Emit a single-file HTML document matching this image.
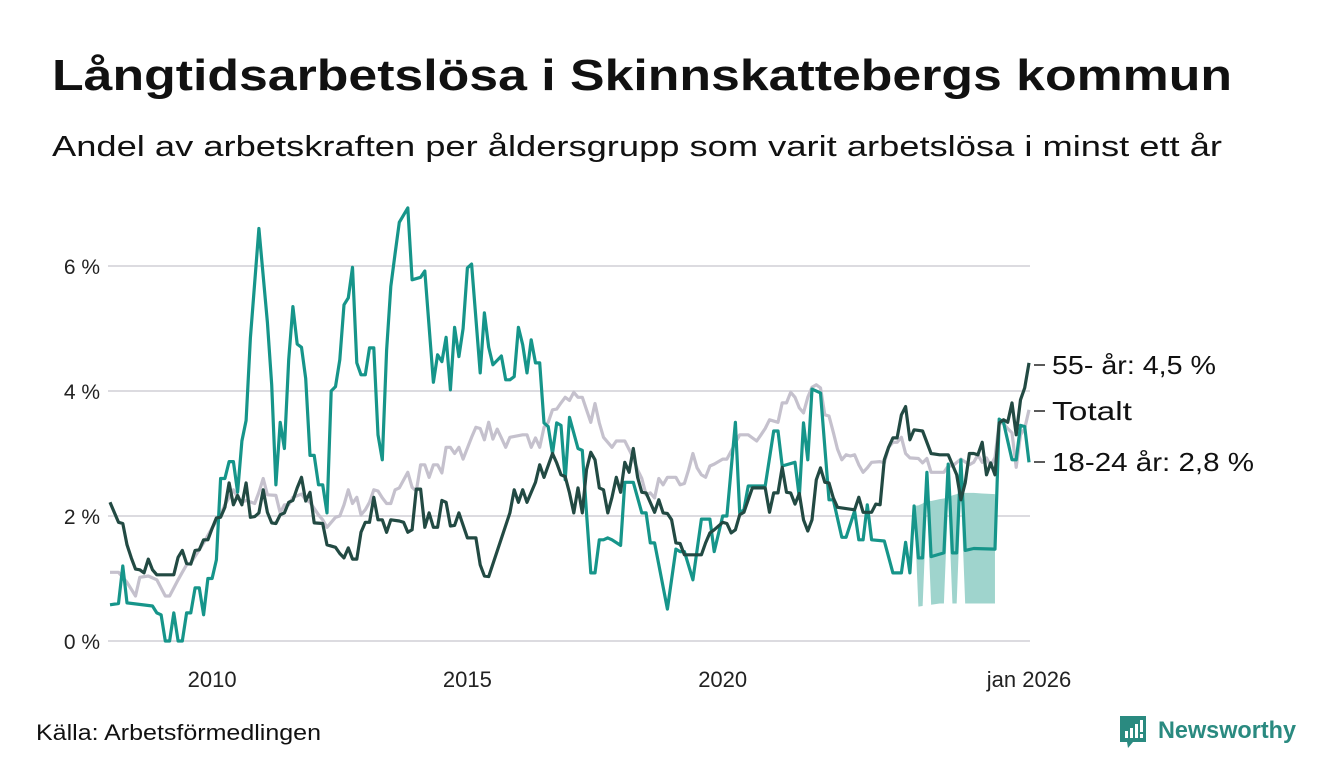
<!DOCTYPE html>
<html><head><meta charset="utf-8">
<style>
body{margin:0;background:#fff;}
svg{display:block;font-family:"Liberation Sans",sans-serif;}
</style></head>
<body>
<svg id="chart" width="1340" height="780" viewBox="0 0 1340 780">
<text x="52" y="90" font-size="44" font-weight="bold" fill="#111" textLength="1180" lengthAdjust="spacingAndGlyphs">Långtidsarbetslösa i Skinnskattebergs kommun</text>
<text x="52" y="156" font-size="29" fill="#111" textLength="1170" lengthAdjust="spacingAndGlyphs">Andel av arbetskraften per åldersgrupp som varit arbetslösa i minst ett år</text>
<g id="grid"></g>
<g id="band"></g>
<g id="lines"></g>
<g id="labels"></g>
<text x="36" y="740" font-size="22" fill="#111" textLength="285" lengthAdjust="spacingAndGlyphs">Källa: Arbetsförmedlingen</text>
<g>
<path d="M1120 716 h26 v26 h-13 l-5 6 l-1-6 h-7 z" fill="#2a8a80"/>
<rect x="1125" y="731" width="3" height="7" fill="#fff"/><rect x="1130" y="728" width="3" height="10" fill="#fff"/><rect x="1135" y="724" width="3" height="14" fill="#fff"/><rect x="1140" y="720" width="3" height="12" fill="#fff"/><rect x="1140" y="734" width="3" height="4" fill="#fff"/>
<text x="1158" y="738" font-size="24" font-weight="bold" fill="#2a8a80" textLength="138" lengthAdjust="spacingAndGlyphs">Newsworthy</text>
</g>
</svg>
<script>
// months since Jan 2008
const youthMonths=[0,2,3,4,10,11,12,13,14,15,16,17,18,19,20,21,22,23,24,25,26,27,28,29,30,31,32,33,35,37,38,39,40,41,42,43,44,45,46,47,48,49,50,51,52,53,54,55,56,57,58,59,60,61,62,63,64,65,66,67,68,70,71,73,74,76,77,78,79,80,81,82,83,84,85,87,88,89,90,92,93,94,95,96,97,98,99,100,101,102,103,104,105,106,107,108,110,111,112,113,114,115,116,117,118,120,121,122,123,125,126,127,128,131,133,134,135,137,138,139,141,142,144,145,147,148,149,150,152,154,156,157,158,161,162,163,164,165,167,169,170,172,173,175,176,177,178,179,182,184,186,187,188,189,190,191,192,193,196,197,198,199,200,201,203,208,209,210,212,213,214,215,216];
const youthValues=[0.58,0.6,1.2,0.61,0.56,0.45,0.42,0,0,0.45,0,0,0.45,0.45,0.85,0.85,0.42,1.0,1.0,1.3,2.6,2.6,2.87,2.87,2.38,3.2,3.53,4.85,6.6,5.1,4.1,2.5,3.5,3.08,4.5,5.35,4.75,4.7,4.2,2.97,2.97,2.5,2.5,2.05,4.0,4.07,4.5,5.38,5.49,5.98,4.45,4.26,4.26,4.69,4.69,3.3,2.9,4.65,5.67,6.2,6.7,6.93,5.78,5.82,5.92,4.14,4.58,4.47,4.86,4.02,5.02,4.55,5.0,5.97,6.03,4.29,5.25,4.7,4.42,4.56,4.18,4.18,4.23,5.02,4.74,4.29,4.82,4.45,4.45,3.49,3.43,3.0,3.49,3.45,2.58,3.58,3.08,3.05,2.05,1.09,1.09,1.62,1.62,1.65,1.62,1.53,2.54,2.54,2.54,2.05,2.05,1.57,1.57,0.51,1.47,1.43,1.43,0.98,1.46,1.95,1.95,1.43,2.0,2.0,3.5,2.05,2.1,2.48,2.48,2.48,3.36,3.36,2.8,2.86,2.3,3.49,2.9,4.03,3.97,2.26,2.26,1.66,1.66,2.08,1.62,1.62,2.18,1.62,1.6,1.09,1.09,1.58,1.09,2.16,1.33,1.33,2.7,1.35,1.41,2.83,1.41,1.41,2.9,1.45,1.48,1.47,3.55,3.5,2.9,2.9,3.45,3.43,2.86];
const oldMonths=[0,2,3,4,5,6,7,8,9,10,11,15,16,17,18,19,20,21,22,23,24,25,26,27,28,29,30,31,32,33,34,35,36,37,38,39,40,41,42,43,44,45,46,47,48,50,51,53,54,55,56,57,58,59,60,61,62,63,64,65,66,68,69,70,71,72,73,74,75,76,77,78,79,80,81,82,84,86,87,88,89,94,95,96,97,98,100,101,102,104,105,106,107,108,109,110,111,112,113,114,115,116,117,118,119,120,121,122,123,124,125,126,128,129,130,131,132,133,134,135,139,140,141,142,144,145,146,147,148,149,150,151,154,155,156,157,158,159,160,161,162,163,164,165,166,167,168,169,170,171,175,176,177,179,180,181,182,183,184,185,186,187,188,189,191,193,195,197,199,200,201,202,203,204,205,206,207,208,209,210,211,212,213,214,215,216];
const oldValues=[2.22,1.9,1.88,1.54,1.33,1.15,1.14,1.09,1.31,1.14,1.06,1.06,1.34,1.45,1.24,1.23,1.45,1.46,1.62,1.62,1.8,1.97,1.98,2.14,2.53,2.18,2.33,2.18,2.53,1.98,1.99,2.05,2.42,2.06,1.89,1.88,2.02,2.05,2.22,2.25,2.45,2.62,2.24,2.38,1.89,1.88,1.54,1.5,1.4,1.33,1.49,1.31,1.31,1.74,1.9,1.9,2.3,1.94,1.94,1.74,1.94,1.92,1.9,1.74,1.78,2.43,2.43,1.82,2.05,1.82,1.82,2.25,2.22,1.84,1.85,2.05,1.65,1.65,1.22,1.04,1.03,2.05,2.42,2.22,2.42,2.22,2.54,2.82,2.62,3.0,2.85,2.66,2.63,2.37,2.05,2.45,2.05,2.74,3.02,2.9,2.45,2.42,2.05,2.3,2.62,2.38,2.86,2.7,3.08,2.62,2.38,2.37,2.06,2.26,2.05,2.04,1.94,1.57,1.56,1.38,1.38,1.57,1.73,1.78,1.9,1.88,1.73,1.78,2.02,2.06,2.26,2.45,2.45,2.06,2.37,2.37,2.78,2.38,2.37,2.19,2.36,1.94,1.76,1.94,2.58,2.77,2.54,2.53,2.29,2.14,2.1,2.3,2.06,2.06,2.19,2.18,2.9,3.1,3.25,3.25,3.62,3.75,3.22,3.38,3.36,3.0,2.98,2.98,2.66,2.26,2.53,3.0,3.0,2.98,3.18,2.66,2.85,2.66,3.49,3.54,3.5,3.81,3.3,3.86,4.05,4.45];
const totalMonths=[0,2,4,6,7,9,11,13,14,16,17,18,19,21,22,24,26,27,29,30,31,32,34,35,36,37,39,40,41,42,43,45,46,47,49,50,51,53,54,55,56,57,58,59,60,61,62,63,64,65,66,67,68,70,71,72,73,74,75,76,77,78,79,80,81,82,83,85,86,87,88,89,90,91,92,93,94,97,98,99,100,101,102,103,104,105,106,107,108,109,110,111,112,113,114,115,116,118,119,121,123,124,125,126,127,128,129,130,131,133,134,135,136,137,138,139,140,141,142,144,145,146,147,148,150,151,152,153,154,155,157,158,159,160,161,162,163,164,165,166,167,168,169,170,171,172,173,174,175,176,177,178,179,181,182,183,184,185,186,187,188,190,191,192,193,195,196,197,198,200,202,203,204,205,206,207,208,209,210,211,212,213,214,215,216];
const totalValues=[1.1,1.1,0.94,0.72,1.02,1.04,0.98,0.72,0.72,0.98,1.1,1.22,1.25,1.46,1.57,1.81,2.02,2.18,2.42,2.3,2.22,2.25,2.2,2.38,2.6,2.34,2.33,2.05,2.18,2.18,2.3,2.35,2.26,2.22,2.02,1.94,1.82,1.98,2.0,2.18,2.42,2.2,2.3,2.02,2.1,2.22,2.42,2.4,2.29,2.2,2.2,2.42,2.45,2.7,2.46,2.4,2.82,2.82,2.62,2.82,2.82,2.69,3.1,3.1,3.0,3.1,2.91,3.26,3.42,3.4,3.22,3.5,3.23,3.39,3.25,3.1,3.26,3.3,3.3,3.1,3.25,3.1,3.42,3.5,3.7,3.71,3.81,3.9,3.85,3.98,3.9,3.9,3.7,3.5,3.8,3.49,3.26,3.1,3.2,3.2,2.93,2.74,2.6,2.34,2.37,2.29,2.6,2.5,2.62,2.62,2.5,2.52,2.74,3.0,2.77,2.66,2.62,2.8,2.83,2.91,2.91,3.04,3.17,3.3,3.3,3.25,3.2,3.3,3.4,3.54,3.5,3.81,3.81,3.98,3.9,3.73,3.65,3.9,4.06,4.1,4.05,3.62,3.6,3.34,3.07,2.9,2.98,2.96,2.98,2.82,2.7,2.77,2.86,2.87,2.85,3.1,3.18,3.18,3.26,3.0,2.93,2.92,2.85,2.92,2.7,2.7,2.7,2.8,2.8,2.91,2.82,2.86,2.98,2.86,2.93,2.8,2.94,3.5,3.48,3.4,3.33,2.78,3.3,3.4,3.7];
const bandMonths=[189,190,191,192,193,195,196,197,198,199,200,201,203,205,208];
const bandLow=[2.16,0.55,0.56,2.25,0.58,0.6,0.6,2.3,0.6,0.6,2.37,0.6,0.6,0.6,0.6];
const bandHigh=[2.16,2.17,2.2,2.25,2.24,2.27,2.28,2.3,2.33,2.35,2.37,2.37,2.37,2.36,2.35];
const yTicks=[0,2,4,6];
const yTickLabels=["0 %","2 %","4 %","6 %"];
const xTickMonths=[24,84,144,216];
const xTickLabels=["2010","2015","2020","jan 2026"];

const NS="http://www.w3.org/2000/svg";
const X=m=>110+m*(919/216);
const Y=v=>641-v*62.5;
function mk(tag,attrs,parent){const e=document.createElementNS(NS,tag);for(const k in attrs)e.setAttribute(k,attrs[k]);parent.appendChild(e);return e;}
const grid=document.getElementById('grid');
yTicks.forEach((t,i)=>{
  const l=mk('line',{x1:108,x2:1030,y1:Y(t),y2:Y(t),stroke:'#dcdbe0','stroke-width':2},grid);
  
  
  const tx=mk('text',{x:100,y:Y(t)+8,'text-anchor':'end','font-size':21,fill:'#222'},grid);
  tx.textContent=yTickLabels[i];
  
  
});
xTickMonths.forEach((m,i)=>{
  const tx=mk('text',{x:X(m),y:687,'text-anchor':'middle','font-size':22,fill:'#222'},grid);
  tx.textContent=xTickLabels[i];
  
  
});
let d='';
bandMonths.forEach((m,i)=>{d+=(i?'L':'M')+X(m)+' '+Y(bandHigh[i]);});
for(let i=bandMonths.length-1;i>=0;i--)d+='L'+X(bandMonths[i])+' '+Y(bandLow[i]);
const band=mk('path',{d:d+'Z',fill:'#9fd4cd'},document.getElementById('band'));


function line(ms,vs,color,name){
  const p=mk('path',{d:ms.map((m,i)=>(i?'L':'M')+X(m).toFixed(1)+' '+Y(vs[i]).toFixed(1)).join(''),fill:'none',stroke:color,'stroke-width':3.2,'stroke-linejoin':'round'},document.getElementById('lines'));
  
  
}
line(totalMonths,totalValues,'#c5c1cd','line-totalt');
line(youthMonths,youthValues,'#16958a','line-18-24');
line(oldMonths,oldValues,'#224a43','line-55-plus');
const labs=[["55- år: 4,5 %",365,164],["Totalt",411,80],["18-24 år: 2,8 %",462,202]];
const lg=document.getElementById('labels');
labs.forEach(a=>{
  const t=mk('line',{x1:1034,x2:1045,y1:a[1],y2:a[1],stroke:'#222','stroke-width':1.5},lg);
  
  
  const tx=mk('text',{x:1052,y:a[1]+9,'font-size':26,fill:'#111',textLength:a[2],lengthAdjust:'spacingAndGlyphs'},lg);
  tx.textContent=a[0];
  
  
});
</script>
</body></html>
